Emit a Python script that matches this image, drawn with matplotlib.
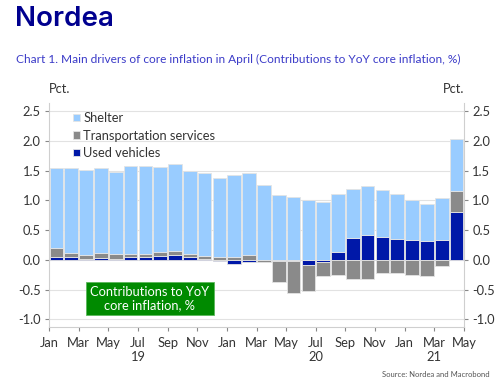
import numpy as np
import matplotlib
matplotlib.use("Agg")
import matplotlib.pyplot as plt

# Jan 2019 .. Apr 2021, contributions to YoY core inflation (pct. points)
months = ["Jan", "Feb", "Mar", "Apr", "May", "Jun", "Jul", "Aug", "Sep", "Oct", "Nov", "Dec",
          "Jan", "Feb", "Mar", "Apr", "May", "Jun", "Jul", "Aug", "Sep", "Oct", "Nov", "Dec",
          "Jan", "Feb", "Mar", "Apr"]
used_vehicles = [0.05, 0.04, 0.02, 0.03, 0.02, 0.045, 0.045, 0.06, 0.08, 0.05, 0.01, -0.02,
                 -0.07, -0.04, 0.0, -0.015, -0.015, -0.09, -0.035, 0.14, 0.36, 0.41, 0.38, 0.35,
                 0.34, 0.32, 0.33, 0.80]
transport = [0.15, 0.08, 0.07, 0.08, 0.08, 0.06, 0.06, 0.07, 0.07, 0.05, 0.06, 0.04,
             0.045, 0.08, -0.04, -0.36, -0.54, -0.44, -0.235, -0.25, -0.325, -0.325, -0.225, -0.225,
             -0.26, -0.28, -0.10, 0.365]
shelter = [1.34, 1.43, 1.42, 1.43, 1.38, 1.48, 1.48, 1.44, 1.47, 1.40, 1.39, 1.34,
           1.39, 1.38, 1.26, 1.09, 1.06, 1.01, 0.97, 0.96, 0.84, 0.83, 0.79, 0.75,
           0.67, 0.62, 0.71, 0.87]

tick_labels = ["Jan", "Mar", "May", "Jul", "Sep", "Nov", "Jan", "Mar", "May", "Jul", "Sep", "Nov",
               "Jan", "Mar", "May"]
year_labels = {6: "19", 18: "20", 26: "21"}

series = [("Used vehicles", used_vehicles, "#0018A8"),
          ("Transportation services", transport, "#8A8A8A"),
          ("Shelter", shelter, "#99CCFF")]

plt.rcParams["font.family"] = ["Lato", "DejaVu Sans"]
TXT = "#333333"

fig = plt.figure(figsize=(5, 3.85), dpi=100)
ax = fig.add_axes([0.098, 0.1506, 0.83, 0.582])

x = np.arange(len(months)) + 0.5
pos_base = np.zeros(len(months))
neg_base = np.zeros(len(months))
handles = {}
for name, vals, col in series:
    v = np.array(vals)
    base = np.where(v >= 0, pos_base, neg_base)
    handles[name] = ax.bar(x, v, bottom=base, width=0.92, color=col,
                           edgecolor="#E4E4E4", linewidth=0.6, zorder=2)
    pos_base += np.where(v >= 0, v, 0)
    neg_base += np.where(v < 0, v, 0)

ax.set_xlim(0, len(months))
ax.set_ylim(-1.13, 2.64)
ax.set_yticks(np.arange(-1.0, 2.51, 0.5))
ax.set_yticklabels([f"{t:.1f}" for t in np.arange(-1.0, 2.51, 0.5)])
ax.set_xticks(np.arange(0, len(months) + 1, 2))
ax.set_xticklabels(tick_labels)

ax.grid(axis="y", color="#E2E2E2", lw=0.8, zorder=0)
ax.spines["top"].set_visible(False)
for s in ["left", "right", "bottom"]:
    ax.spines[s].set_color("#CFCFCF")
    ax.spines[s].set_linewidth(0.8)
ax.tick_params(axis="y", left=True, right=True, labelleft=True, labelright=True,
               length=3, color="#888888", labelsize=9.3, labelcolor=TXT, pad=3)
ax.tick_params(axis="x", length=3, color="#888888", labelsize=9.3, labelcolor=TXT, pad=4)

for pos, yr in year_labels.items():
    ax.text(pos, -0.135, yr, transform=ax.get_xaxis_transform(), ha="center", va="center",
            fontsize=9.3, color=TXT)

ax.text(0, 1.035, "Pct.", transform=ax.transAxes, ha="left", va="bottom", fontsize=9.3, color=TXT)
ax.text(1, 1.035, "Pct.", transform=ax.transAxes, ha="right", va="bottom", fontsize=9.3, color=TXT)

ax.legend([handles["Shelter"], handles["Transportation services"], handles["Used vehicles"]],
          ["Shelter", "Transportation services", "Used vehicles"],
          loc="upper left", bbox_to_anchor=(0.03, 1.01), frameon=False, fontsize=9.3,
          handlelength=0.5, handleheight=0.5, handletextpad=0.3, labelspacing=0.42,
          labelcolor=TXT)

ax.text(6.8, -0.65, "Contributions to YoY\ncore inflation, %", ha="center", va="center",
        fontsize=9.3, color="white", linespacing=1.05, zorder=5,
        bbox=dict(boxstyle="square,pad=0.35", fc="#008A00", ec="#5CB85C", lw=0.6))

fig.text(0.03, 0.95, "Nordea", fontsize=20, fontweight="semibold", color="#00008F",
         family=["Inter", "DejaVu Sans"], ha="left", va="center")
fig.text(0.032, 0.845,
         "Chart 1. Main drivers of core inflation in April (Contributions to YoY core inflation, %)",
         fontsize=8.6, color="#3B3BC8", ha="left", va="center")
fig.text(0.98, 0.028, "Source: Nordea and Macrobond", fontsize=5.5, color="#555555",
         ha="right", va="center")

plt.savefig("out.png", dpi=100)
print("Saved: out.png")
